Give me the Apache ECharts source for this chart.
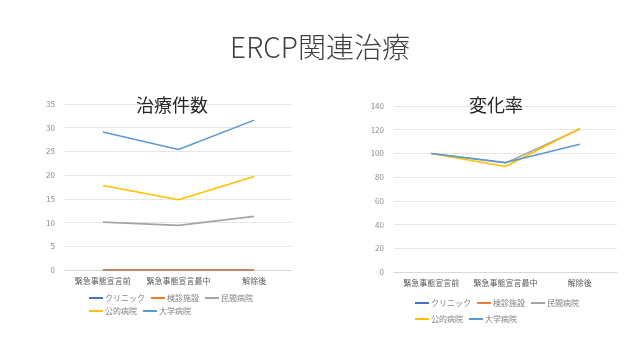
<!DOCTYPE html>
<html><head><meta charset="utf-8">
<script src="https://cdn.jsdelivr.net/npm/echarts@6/dist/echarts.min.js"></script>
<style>html,body{margin:0;padding:0;background:#fff}#c{width:640px;height:360px}</style>
</head><body><div id="c"></div>
<script>
const categories = ['緊急事態宣言前', '緊急事態宣言最中', '解除後'];
const seriesNames = ['クリニック', '検診施設', '民間病院', '公的病院', '大学病院'];
const colors = ['#4472C4', '#ED7D31', '#A5A5A5', '#FFC000', '#5B9BD5'];
// 治療件数
const countClinic = [0, 0, 0];
const countKenshin = [0, 0, 0];
const countMinkan = [10.1, 9.4, 11.3];
const countKoteki = [17.8, 14.8, 19.7];
const countDaigaku = [29.1, 25.4, 31.6];
// 変化率
const rateClinic = [null, null, null];
const rateKenshin = [null, null, null];
const rateMinkan = [100, 92, 120.5];
const rateKoteki = [100, 89, 121];
const rateDaigaku = [100, 92.3, 107.7];
const countTicks = {min: 0, max: 35, interval: 5};
const rateTicks = {min: 0, max: 140, interval: 20};

const countData = [countClinic, countKenshin, countMinkan, countKoteki, countDaigaku];
const rateData = [rateClinic, rateKenshin, rateMinkan, rateKoteki, rateDaigaku];
const font = "'Noto Sans CJK JP', 'Noto Sans', sans-serif";

const chart = echarts.init(document.getElementById('c'), null, {renderer: 'canvas'});
function xAx(i) {
  return {type: 'category', gridIndex: i, data: categories, boundaryGap: true,
    axisLine: {show: true, lineStyle: {color: '#d9d9d9'}}, axisTick: {show: false},
    axisLabel: {color: '#595959', fontSize: 8, fontFamily: font, margin: 7, interval: 0, hideOverlap: false}};
}
function yAx(i, t) {
  return {type: 'value', gridIndex: i, min: t.min, max: t.max, interval: t.interval,
    axisLine: {show: false}, axisTick: {show: false},
    splitLine: {lineStyle: {color: '#e6e6e6'}},
    axisLabel: {color: '#8c8c8c', fontSize: 8, fontFamily: font, margin: 10}};
}
const series = [];
seriesNames.forEach((n, k) => {
  series.push({name: n, type: 'line', xAxisIndex: 0, yAxisIndex: 0, data: countData[k],
    symbol: 'none', lineStyle: {width: 1.6, color: colors[k]}, itemStyle: {color: colors[k]}, z: k});
});
seriesNames.forEach((n, k) => {
  series.push({name: n, type: 'line', xAxisIndex: 1, yAxisIndex: 1, data: rateData[k],
    symbol: 'none', lineStyle: {width: 1.6, color: colors[k]}, itemStyle: {color: colors[k]}, z: k});
});
function legend(left, top, data) {
  return {left: left, top: top, data: data, itemWidth: 14, itemHeight: 2, itemGap: 6, padding: 0,
    icon: 'rect', textStyle: {color: '#7f7f7f', fontSize: 8, fontFamily: font, padding: [0, 0, 0, -3]}};
}
chart.setOption({
  animation: false,
  color: colors,
  title: [
    {text: 'ERCP関連治療', left: 'center', top: 33, padding: 0, textStyle: {fontSize: 28, fontWeight: 300, color: '#404040', fontFamily: font}},
    {text: '治療件数', left: 136, top: 96, padding: 0, textStyle: {fontSize: 18, fontWeight: 'normal', color: '#262626', fontFamily: font}},
    {text: '変化率', left: 469, top: 96, padding: 0, textStyle: {fontSize: 18, fontWeight: 'normal', color: '#262626', fontFamily: font}}
  ],
  grid: [
    {left: 65, top: 104, width: 227, height: 166, containLabel: false},
    {left: 394, top: 106, width: 223, height: 166, containLabel: false}
  ],
  xAxis: [xAx(0), xAx(1)],
  yAxis: [yAx(0, countTicks), yAx(1, rateTicks)],
  legend: [
    legend(89, 294, seriesNames.slice(0, 3)),
    legend(89, 307, seriesNames.slice(3)),
    legend(415, 299, seriesNames.slice(0, 3)),
    legend(415, 315, seriesNames.slice(3))
  ],
  series: series
});
</script></body></html>
